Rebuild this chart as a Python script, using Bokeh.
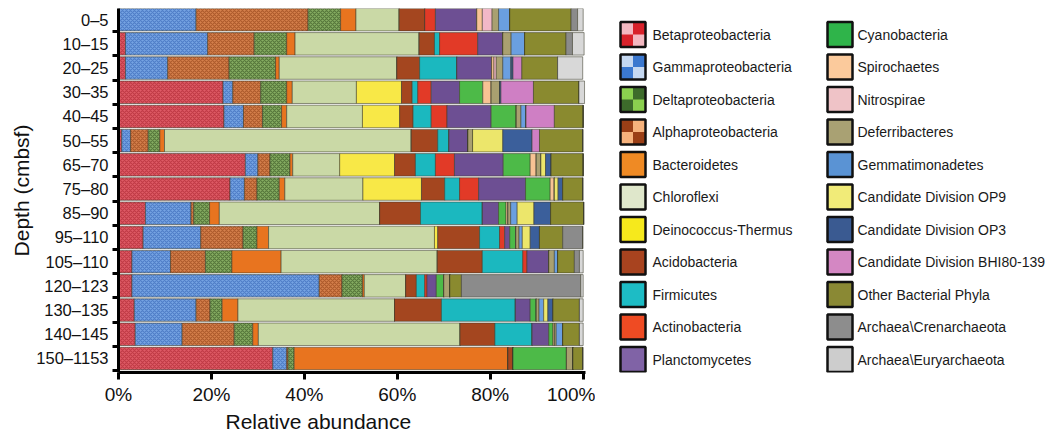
from bokeh.plotting import figure
from bokeh.models import ColumnDataSource, Range1d, FixedTicker, Title
from bokeh.layouts import row
from bokeh.embed import file_html
from bokeh.resources import INLINE
from bokeh.core.properties import value

# ---------------- data ----------------
depths = ["0–5", "10–15", "20–25", "30–35", "40–45", "50–55", "65–70", "75–80",
          "85–90", "95–110", "105–110", "120–123", "130–135", "140–145", "150–1153"]

beta      = [0.0, 1.5, 1.5, 22.5, 22.7, 0.7, 27.3, 24.0, 5.8, 5.3, 2.9, 2.9, 3.4, 3.6, 33.2]
gamma     = [16.7, 17.7, 9.1, 2.1, 4.2, 1.9, 2.7, 3.1, 9.8, 12.4, 8.3, 40.3, 13.3, 10.1, 3.0]
alpha     = [24.1, 10.0, 13.2, 6.0, 4.1, 3.8, 2.6, 2.7, 0.6, 9.1, 7.5, 4.9, 3.0, 11.2, 0.3]
delta     = [7.0, 7.0, 10.0, 5.6, 4.1, 2.5, 4.3, 4.8, 3.4, 3.0, 5.7, 4.4, 2.6, 4.0, 1.3]
bactero   = [3.3, 1.8, 0.8, 1.2, 1.1, 1.0, 0.6, 1.2, 2.1, 2.5, 10.6, 0.4, 3.4, 1.2, 46.0]
chloro    = [9.3, 26.7, 25.3, 13.8, 16.3, 53.1, 10.1, 16.8, 34.5, 35.7, 33.6, 8.9, 33.7, 43.4, 0.0]
deino     = [0.0, 0.0, 0.0, 9.7, 8.0, 0.0, 11.8, 12.6, 0.0, 0.7, 0.0, 0.0, 0.0, 0.0, 0.0]
acido     = [5.5, 3.3, 4.9, 2.3, 2.9, 5.7, 4.5, 5.0, 8.8, 9.0, 9.7, 2.3, 10.1, 7.5, 1.1]
firmi     = [0.0, 1.1, 8.0, 1.2, 3.9, 2.4, 4.3, 3.2, 13.3, 4.3, 8.7, 1.8, 15.9, 8.0, 0.0]
actino    = [2.3, 8.2, 0.0, 2.9, 3.4, 0.0, 4.1, 4.1, 0.0, 1.1, 0.9, 0.5, 0.0, 0.0, 0.0]
plancto   = [8.9, 5.4, 7.5, 6.1, 9.5, 4.1, 10.5, 10.1, 3.5, 1.1, 4.7, 2.0, 3.2, 3.6, 0.0]
cyano     = [0.0, 0.0, 0.0, 5.0, 5.4, 0.0, 5.8, 5.3, 1.6, 1.3, 0.0, 1.6, 1.3, 0.9, 11.5]
spiro     = [1.2, 0.0, 0.5, 1.8, 0.0, 0.0, 1.3, 0.9, 0.4, 0.0, 0.0, 0.0, 0.0, 0.3, 0.0]
nitro     = [2.1, 0.0, 0.5, 0.0, 0.0, 0.0, 0.0, 0.0, 0.0, 0.0, 0.0, 0.0, 0.0, 0.0, 0.0]
deferri   = [1.4, 1.8, 1.4, 1.8, 1.0, 1.0, 1.0, 0.0, 0.6, 0.7, 1.2, 1.3, 0.6, 0.4, 1.4]
gemma     = [2.4, 2.9, 1.8, 0.0, 1.1, 0.0, 0.0, 0.0, 1.4, 0.7, 0.7, 0.0, 1.0, 1.4, 0.0]
op9       = [0.0, 0.0, 0.0, 0.0, 0.0, 6.5, 1.0, 0.8, 3.6, 1.7, 0.0, 0.0, 0.9, 0.0, 0.0]
op3       = [0.0, 0.0, 0.4, 0.3, 0.0, 6.3, 1.2, 1.0, 3.6, 2.0, 0.0, 0.0, 1.1, 0.0, 0.0]
bhi       = [0.0, 0.0, 1.9, 7.0, 6.1, 1.6, 0.0, 0.0, 0.0, 0.0, 0.0, 0.0, 0.0, 0.0, 0.0]
other     = [13.2, 8.9, 7.7, 9.8, 6.2, 9.3, 6.9, 4.3, 7.1, 5.0, 3.6, 2.5, 5.7, 3.6, 2.1]
crenarch  = [1.4, 1.4, 0.0, 0.0, 0.0, 0.0, 0.0, 0.0, 0.0, 4.3, 1.1, 25.7, 0.0, 0.0, 0.0]
euryarch  = [1.2, 2.5, 5.4, 1.2, 0.0, 0.0, 0.0, 0.0, 0.0, 0.0, 0.8, 0.5, 0.8, 0.8, 0.0]

x_ticks = [0, 20, 40, 60, 80, 100]
x_tick_labels = ["0%", "20%", "40%", "60%", "80%", "100%"]

# legend order (two columns)
legend_names = ["Betaproteobacteria", "Gammaproteobacteria", "Deltaproteobacteria",
                "Alphaproteobacteria", "Bacteroidetes", "Chloroflexi", "Deinococcus-Thermus",
                "Acidobacteria", "Firmicutes", "Actinobacteria", "Planctomycetes",
                "Cyanobacteria", "Spirochaetes", "Nitrospirae", "Deferribacteres",
                "Gemmatimonadetes", "Candidate Division OP9", "Candidate Division OP3",
                "Candidate Division BHI80-139", "Other Bacterial Phyla",
                "Archaea\\Crenarchaeota", "Archaea\\Euryarchaeota"]
legend_keys = ["beta", "gamma", "delta", "alpha", "bactero", "chloro", "deino", "acido",
               "firmi", "actino", "plancto", "cyano", "spiro", "nitro", "deferri", "gemma",
               "op9", "op3", "bhi", "other", "crenarch", "euryarch"]
legend_colors = ["#d8222b", "#3b78cf", "#3d6b2b", "#f6b27c", "#ef8a24", "#dfe7cb", "#f6e91c",
                 "#a8431f", "#1dbcc5", "#ef4b23", "#8063a6", "#2fb44a", "#fbca9c", "#efc3c7",
                 "#a9a173", "#5a93d4", "#f1eb78", "#3a5a91", "#d487c3", "#8a8934", "#8d8d8d",
                 "#cdcdcd"]
legend_check = {"beta": "#f3b8c1", "gamma": "#c5d8f1", "delta": "#8bd04f", "alpha": "#9b3f16"}

# stacking order in bars (left to right)
stack_keys = ["beta", "gamma", "alpha", "delta", "bactero", "chloro", "deino", "acido",
              "firmi", "actino", "plancto", "cyano", "spiro", "nitro", "deferri", "gemma",
              "op9", "op3", "bhi", "other", "crenarch", "euryarch"]
bar_colors = {"beta": "#de5a65", "gamma": "#76a4e3", "alpha": "#d5804c", "delta": "#86ad62",
              "bactero": "#e8741f", "chloro": "#cad9a6", "deino": "#f8e847", "acido": "#a4461f",
              "firmi": "#1bb8bf", "actino": "#e23a27", "plancto": "#6d4f93", "cyano": "#4dba48",
              "spiro": "#f8c394", "nitro": "#f2b8c8", "deferri": "#a9a070", "gemma": "#6a9fe0",
              "op9": "#ece66b", "op3": "#3b5f9b", "bhi": "#cf7fc4", "other": "#8a8a2f",
              "crenarch": "#8b8b8b", "euryarch": "#d8d8d8"}
hatch_colors = {"beta": "#a8202c", "gamma": "#2f5fb0", "alpha": "#8c3c12", "delta": "#2f4a1c"}

series = {"beta": beta, "gamma": gamma, "alpha": alpha, "delta": delta, "bactero": bactero,
          "chloro": chloro, "deino": deino, "acido": acido, "firmi": firmi, "actino": actino,
          "plancto": plancto, "cyano": cyano, "spiro": spiro, "nitro": nitro,
          "deferri": deferri, "gemma": gemma, "op9": op9, "op3": op3, "bhi": bhi,
          "other": other, "crenarch": crenarch, "euryarch": euryarch}

# ---------------- main chart ----------------
FONT = "Liberation Sans"
data = dict(series)
data["y"] = list(range(len(depths)))
src = ColumnDataSource(data)

H = 432
TOP, BOTTOM = 8, 60          # frame spans page y 8 .. 372
p = figure(width=595, height=H, x_range=Range1d(0, 100.5),
           y_range=Range1d(len(depths) - 0.42, -0.46),
           toolbar_location=None, output_backend="svg",
           min_border_left=118, min_border_right=10, min_border_top=TOP,
           min_border_bottom=BOTTOM)
p.outline_line_color = None
p.grid.visible = False
p.background_fill_color = "white"

hatch_p = [("x" if k in hatch_colors else None) for k in stack_keys]
hatch_c = [hatch_colors.get(k, "black") for k in stack_keys]
p.hbar_stack(stack_keys, y="y", height=0.93, source=src,
             fill_color=[bar_colors[k] for k in stack_keys],
             line_color="#3a3a2a", line_alpha=0.55, line_width=1,
             hatch_pattern=hatch_p, hatch_color=hatch_c, hatch_scale=4,
             hatch_weight=1.2, hatch_alpha=0.55)

# x axis
xa = p.xaxis[0]
xa.ticker = FixedTicker(ticks=x_ticks)
xa.major_label_overrides = {t: l for t, l in zip(x_ticks, x_tick_labels)}
xa.minor_tick_line_color = None
xa.major_tick_out = 7
xa.major_tick_in = 0
xa.major_tick_line_width = 3
xa.axis_line_width = 3
xa.major_label_text_font = FONT
xa.major_label_text_font_size = "19px"
xa.major_label_text_color = "#111111"
xa.major_label_standoff = 4

p.add_layout(Title(text="Relative abundance", align="left", offset=107,
                   text_font=FONT, text_font_size="21px", text_font_style="normal",
                   text_color="#111111", standoff=0), "below")

# y axis
ya = p.yaxis[0]
ya.ticker = FixedTicker(ticks=list(range(len(depths))),
                        minor_ticks=[i - 0.5 for i in range(len(depths) + 1)])
ya.major_label_overrides = {i: d for i, d in enumerate(depths)}
ya.major_tick_line_color = None
ya.major_tick_out = 6
ya.major_tick_in = 0
ya.minor_tick_out = 6
ya.minor_tick_in = 0
ya.minor_tick_line_width = 3
ya.axis_line_width = 3
ya.major_label_text_font = FONT
ya.major_label_text_font_size = "16.5px"
ya.major_label_text_color = "#111111"
ya.major_label_standoff = 4
ya.axis_label = "Depth (cmbsf)"
ya.axis_label_text_font = FONT
ya.axis_label_text_font_size = "21px"
ya.axis_label_text_font_style = "normal"
ya.axis_label_text_color = "#111111"
ya.axis_label_standoff = 0

# ---------------- legend panel ----------------
# the row layout aligns this panel's frame with the chart frame (page y 8..372),
# so its y range is expressed in page pixels
LW = 453
lg = figure(width=LW, height=H, x_range=Range1d(0, LW), y_range=Range1d(H - BOTTOM, TOP),
            toolbar_location=None, output_backend="svg", min_border=0,
            min_border_top=TOP, min_border_bottom=BOTTOM,
            x_axis_location=None, y_axis_location=None)
lg.outline_line_color = None
lg.grid.visible = False

n_rows = 11
sq = 25
cx, cy, tx = [], [], []
for i in range(len(legend_names)):
    col, r = divmod(i, n_rows)
    left = 25 + col * 207
    cx.append(left + sq / 2)
    cy.append(34 + 32.5 * r)
    tx.append(left + 32 - col * 2)

lg.rect(x=cx, y=cy, width=sq, height=sq, fill_color=legend_colors, line_color=None)
qx, qy, qc = [], [], []
for i, k in enumerate(legend_keys):
    if k in legend_check:
        for dx, dy in ((-1, -1), (1, 1)):
            qx.append(cx[i] + dx * sq / 4)
            qy.append(cy[i] + dy * sq / 4)
            qc.append(legend_check[k])
lg.rect(x=qx, y=qy, width=sq / 2, height=sq / 2, fill_color=qc, line_color=None)
lg.rect(x=cx, y=cy, width=sq, height=sq, fill_color=None, line_color="#111111", line_width=2.5)
lg.text(x=tx, y=cy, text=legend_names, text_font=value(FONT), text_font_size="14px",
        text_baseline="middle", text_align="left", text_color="#1a1a1a")

layout = row(p, lg)
open("out.html", "w", encoding="utf-8").write(file_html(layout, INLINE))
